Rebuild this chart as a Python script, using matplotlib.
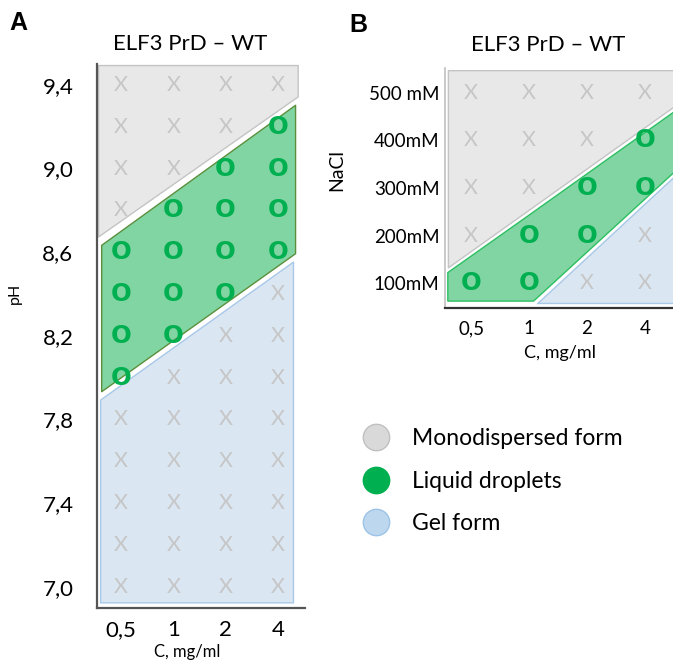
import numpy as np
import matplotlib
matplotlib.use('Agg')
import matplotlib.pyplot as plt
from matplotlib.lines import Line2D

plt.rcParams['font.family'] = ['Lato', 'DejaVu Sans']

############################ data
conc_labels = ['0,5', '1', '2', '4']

# panel A: pH screen
ph_rows = [9.4, 9.2, 9.0, 8.8, 8.6, 8.4, 8.2, 8.0, 7.8, 7.6, 7.4, 7.2, 7.0]
ph_ticks = [9.4, 9.0, 8.6, 8.2, 7.8, 7.4, 7.0]
ph_ticklabels = ['9,4', '9,0', '8,6', '8,2', '7,8', '7,4', '7,0']
phase_A = ['XXXX',
           'XXXO',
           'XXOO',
           'XOOO',
           'OOOO',
           'OOOX',
           'OOXX',
           'OXXX',
           'XXXX',
           'XXXX',
           'XXXX',
           'XXXX',
           'XXXX']
# phase boundaries read at the left / right edge of the diagram
bnd_A_x = [-0.40, 3.35]
bnd_A_mono = [8.655, 9.325]   # monodispersed / droplets
bnd_A_gel = [7.915, 8.575]    # droplets / gel

# panel B: NaCl screen
nacl_rows = [500, 400, 300, 200, 100]
nacl_ticklabels = ['500 mM', '400mM', '300mM', '200mM', '100mM']
phase_B = ['XXXX',
           'XXXO',
           'XXOO',
           'XOOX',
           'OOXX']
bnd_B_mono_x = [-0.40, 3.95]
bnd_B_mono = [128, 506]
bnd_B_gel_x = [1.10, 3.95]
bnd_B_gel = [58, 380]

legend_labels = ['Monodispersed form', 'Liquid droplets', 'Gel form']
############################

c_grey, c_grey_e = '#e8e8e8', '#c4c4c4'
c_green, c_green_eA, c_green_eB = '#80d5a3', '#5b8f3c', '#2cbf62'
c_blue, c_blue_e = '#dae6f2', '#a8c8e8'
c_x, c_o = '#c6c6c6', '#00b050'

W, H = 673, 664
f = plt.figure(figsize=[W/100, H/100], dpi=100)


def draw_cells(ax, rows, phase):
    for i, r in enumerate(rows):
        for j, s in enumerate(phase[i]):
            if s == 'O':
                ax.text(j, r, 'O', ha='center', va='center', color=c_o,
                        fontsize=17.5, fontweight='bold', family='DejaVu Sans',
                        zorder=5)
            else:
                ax.text(j, r, 'X', ha='center', va='center', color=c_x,
                        fontsize=15.5, zorder=5)


# ---------------- A
axA = f.add_axes([97/W, 1-608/H, 208/W, 544/H])
axA.set_xlim(-0.46, 3.52)
axA.set_ylim(6.898, 9.50)
g = 0.02
xa = np.array(bnd_A_x)
axA.fill_between(xa + [-0.04, 0.03], np.array(bnd_A_mono) + g, 9.495,
                 facecolor=c_grey, edgecolor=c_grey_e, lw=1)
axA.fill_between(xa + [0.02, -0.02], np.array(bnd_A_gel) + g,
                 np.array(bnd_A_mono) - g,
                 facecolor=c_green, edgecolor=c_green_eA, lw=1)
axA.fill_between(xa + [0.0, -0.06], 6.925, np.array(bnd_A_gel) - g,
                 facecolor=c_blue, edgecolor=c_blue_e, lw=1)
draw_cells(axA, ph_rows, phase_A)

axA.set_xticks(range(4))
axA.set_xticklabels(conc_labels)
axA.set_yticks(ph_ticks)
axA.set_yticklabels(ph_ticklabels)
axA.tick_params(length=0, labelsize=16)
axA.tick_params(axis='y', pad=17)
axA.tick_params(axis='x', pad=9)
for s in ['top', 'right']:
    axA.spines[s].set_visible(False)
for s in ['left', 'bottom']:
    axA.spines[s].set_color('#555555')
    axA.spines[s].set_linewidth(1.6)
axA.set_title('ELF3 PrD – WT', fontsize=16, x=0.45, pad=10)
axA.set_ylabel('pH', fontsize=11.5)
axA.yaxis.set_label_coords((22-97)/208, (608-293)/544)
axA.set_xlabel('C, mg/ml', fontsize=12)
axA.xaxis.set_label_coords((187-97)/208, (608-652)/544)
axA.xaxis.label.set_va('center')

# ---------------- B
axB = f.add_axes([445/W, 1-308/H, 255/W, 240/H])
axB.set_xlim(-0.45, 3.95)
axB.set_ylim(47.4, 552.6)
gb = 5
xg = np.array([-0.41, bnd_B_gel_x[0] - 0.03, 3.95])
axB.fill_between(bnd_B_mono_x, np.array(bnd_B_mono) + gb, 548,
                 facecolor=c_grey, edgecolor=c_grey_e, lw=1)
axB.fill_between(xg, np.interp(xg, bnd_B_gel_x, bnd_B_gel) + gb,
                 np.interp(xg, bnd_B_mono_x, bnd_B_mono) - gb,
                 facecolor=c_green, edgecolor=c_green_eB, lw=1)
xb = np.array([bnd_B_gel_x[0] + 0.04, 3.95])
axB.fill_between(xb, 58, np.interp(xb, bnd_B_gel_x, bnd_B_gel) - gb,
                 facecolor=c_blue, edgecolor=c_blue_e, lw=1)
draw_cells(axB, nacl_rows, phase_B)

axB.set_xticks(range(4))
axB.set_xticklabels(conc_labels)
axB.set_yticks(nacl_rows)
axB.set_yticklabels(nacl_ticklabels)
axB.tick_params(length=0, labelsize=13.5)
axB.tick_params(axis='y', pad=4)
axB.tick_params(axis='x', pad=9)
for s in ['top', 'right']:
    axB.spines[s].set_visible(False)
axB.spines['left'].set_color('#c0c0c0')
axB.spines['left'].set_linewidth(1.2)
axB.spines['bottom'].set_color('#333333')
axB.spines['bottom'].set_linewidth(1.6)
axB.set_title('ELF3 PrD – WT', fontsize=16, x=(548-445)/255, pad=12)
axB.set_ylabel('NaCl', fontsize=14)
axB.yaxis.set_label_coords((345-445)/255, (308-170)/240)
axB.set_xlabel('C, mg/ml', fontsize=13)
axB.xaxis.set_label_coords((560-445)/255, (308-353)/240)
axB.xaxis.label.set_va('center')

# ---------------- panel letters
f.text(18/W, 1-23/H, 'A', fontsize=18, fontweight='bold',
       family='Liberation Sans', ha='center', va='center')
f.text(358/W, 1-25/H, 'B', fontsize=18, fontweight='bold',
       family='Liberation Sans', ha='center', va='center')

# ---------------- legend
handles = [Line2D([], [], ls='', marker='o', ms=19, mfc=fc, mec=ec, mew=1)
           for fc, ec in [('#d9d9d9', '#c0c0c0'), ('#00b050', '#00b050'),
                          ('#bdd7ee', '#9dc3e6')]]
f.legend(handles, legend_labels, loc='upper left',
         bbox_to_anchor=(342/W, 1-417/H), frameon=False, fontsize=16.5,
         labelspacing=0.93, handletextpad=0.55, borderpad=0)

f.savefig('out.png', dpi=100)
